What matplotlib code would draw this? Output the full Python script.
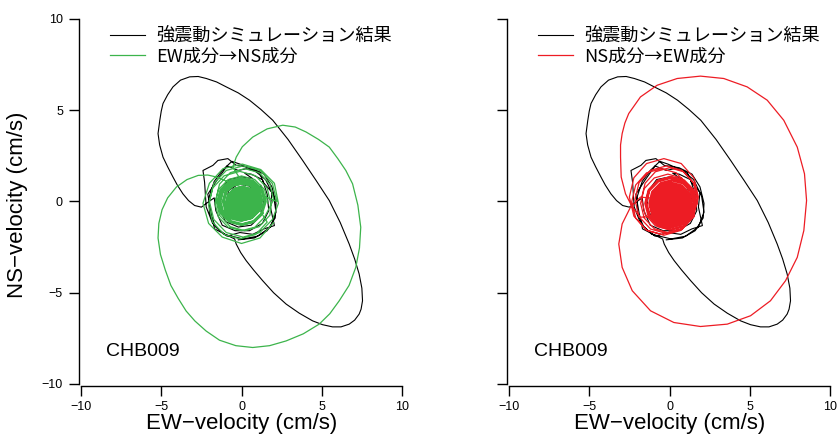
import numpy as np
import matplotlib.pyplot as plt

plt.rcParams['font.family'] = ['Liberation Sans', 'DejaVu Sans']

# black: 強震動シミュレーション結果 (same trace in both panels)
sim_big_x = [-2.09, -2.5, -2.92, -3.3, -3.65, -4.0, -4.27, -4.6, -4.89, -5.1, -5.2, -5.09, -5.0, -4.89, -4.6,
             -4.27, -3.8, -3.23, -2.7, -2.19, -1.55, -0.95, -0.2, 0.5, 1.2, 1.95, 2.9, 3.81, 4.65, 5.47,
             6.15, 6.71, 7.05, 7.33, 7.5, 7.54, 7.45, 7.33, 7.05, 6.71, 6.2, 5.67, 5.05, 4.43, 3.6,
             2.78, 2.0, 1.32, 0.75, 0.29, -0.05, -0.33]
sim_big_y = [-0.04, -0.31, -0.22, 0.05, 0.42, 0.9, 1.34, 1.9, 2.43, 3.1, 3.72, 4.45, 4.95, 5.37, 5.85,
             6.28, 6.65, 6.83, 6.85, 6.74, 6.55, 6.28, 5.95, 5.55, 5.05, 4.45, 3.4, 2.25, 1.15, 0.05,
             -1.15, -2.33, -3.15, -3.97, -4.75, -5.44, -5.9, -6.17, -6.5, -6.72, -6.87, -6.87, -6.75, -6.54, -6.12,
             -5.62, -5.0, -4.34, -3.75, -3.24, -2.8, -2.33]
sim_pre_x = [[0.5, 0.2, -0.3, -0.5, -0.2, 0.3, 0.4],
             [1.0, 0.8, 0.2, -0.6, -1.0, -0.8, -0.2, 0.5, 0.9],
             [1.2, 1.4, 1.2, 0.6, -0.2, -1.0, -1.4, -1.3, -0.8, 0.0, 0.7],
             [0.2, 0.6, 1.3, 1.6, 1.7, 1.3, 0.5, -0.4, -1.2, -1.6, -1.7]]
sim_pre_y = [[0.0, -0.5, -0.4, 0.1, 0.5, 0.4, 0.0],
             [0.4, -0.5, -1.0, -0.9, -0.2, 0.6, 0.95, 0.85, 0.2],
             [0.9, 0.1, -0.8, -1.3, -1.4, -1.1, -0.3, 0.6, 1.2, 1.35, 1.25],
             [1.55, 1.5, 1.2, 0.4, -0.5, -1.2, -1.6, -1.6, -1.3, -0.5, 0.2]]
sim_post_x = [[-0.43, -1.06, -1.68, -1.9, -2.1, -1.5, -0.9, -0.2, 0.3, 1.1, 1.4, 1.9, 1.8, 2.05, 1.4, 0.7, -0.1],
              [-0.9, -1.6, -2.0, -2.0, -1.7, -1.2, -0.6, -0.1, 0.8, 1.5, 2.0, 2.15, 1.8, 1.0, 0.1],
              [-1.1, -1.8, -2.2, -2.3, -2.4, -1.78, -1.47, -0.85, -0.33, 0.6, 1.4, 1.9, 2.15, 2.1, 1.6, 0.8, -0.2]]
sim_post_y = [[-2.05, -1.78, -1.5, -0.6, 0.4, 1.2, 1.95, 1.7, 1.8, 1.6, 1.0, 0.5, -0.3, -1.32, -1.5, -1.8, -1.7],
              [-1.9, -1.4, -0.6, 0.3, 1.1, 1.7, 2.2, 2.05, 1.7, 1.2, 0.3, -0.59, -1.4, -1.9, -2.05],
              [-1.8, -1.2, -0.3, 1.06, 1.7, 1.98, 2.25, 2.35, 1.98, 1.85, 1.5, 0.8, -0.1, -0.9, -1.6, -2.0, -2.1]]

# green: EW成分→NS成分
ew_big_x = [-0.54, -0.33, 0.05, 0.7, 1.6, 2.57, 3.35, 4.02, 4.8, 5.47, 6.0, 6.5, 6.92, 7.25, 7.43,
            7.35, 7.12, 6.7, 6.09, 5.5, 4.84, 3.85, 2.78, 1.75, 0.7, -0.35, -1.37, -2.2, -2.9, -3.45,
            -3.95, -4.4, -4.75, -5.05, -5.2, -5.15, -4.95, -4.6, -4.06, -3.4, -2.7, -2.1, -1.6]
ew_big_y = [1.88, 2.43, 3.0, 3.53, 3.98, 4.18, 4.08, 3.81, 3.4, 2.98, 2.35, 1.7, 0.97, -0.2, -1.41,
            -2.55, -3.61, -4.6, -5.44, -6.15, -6.72, -7.25, -7.64, -7.9, -8.0, -7.9, -7.6, -7.1, -6.55, -6.0,
            -5.3, -4.6, -3.75, -2.9, -2.0, -1.2, -0.45, 0.2, 0.79, 1.2, 1.43, 1.45, 1.35]
ew_core_x = [[0.1, 0.0, -0.1, 0.0],
             [0.2, 0.17, 0.1, 0, -0.1, -0.17, -0.2, -0.17, -0.1, 0, 0.1, 0.17],
             [0.3, 0.26, 0.15, 0, -0.15, -0.26, -0.3, -0.26, -0.15, 0, 0.15, 0.26],
             [0.4, 0.35, 0.2, 0, -0.2, -0.35, -0.4, -0.35, -0.2, 0, 0.2, 0.35],
             [0.5, 0.43, 0.25, 0, -0.25, -0.43, -0.5, -0.43, -0.25, 0, 0.25, 0.43],
             [0.6, 0.52, 0.3, 0, -0.3, -0.52, -0.6, -0.52, -0.3, 0, 0.3, 0.52],
             [0.7, 0.61, 0.35, 0, -0.35, -0.61, -0.7, -0.61, -0.35, 0, 0.35, 0.61],
             [0.8, 0.7, 0.4, 0, -0.4, -0.7, -0.8, -0.7, -0.4, 0, 0.4, 0.7],
             [0.9, 0.78, 0.45, 0, -0.45, -0.78, -0.9, -0.78, -0.45, 0, 0.45, 0.78],
             [1.05, 0.92, 0.55, 0.05, -0.45, -0.82, -0.95, -0.82, -0.45, 0.05, 0.55, 0.92],
             [1.1, 0.96, 0.55, 0, -0.55, -0.96, -1.1, -0.96, -0.55, 0, 0.55, 0.96],
             [1.25, 1.09, 0.65, 0.05, -0.55, -0.99, -1.15, -0.99, -0.55, 0.05, 0.65, 1.09],
             [1.25, 1.08, 0.6, -0.05, -0.7, -1.18, -1.35, -1.18, -0.7, -0.05, 0.6, 1.08],
             [1.45, 1.27, 0.75, 0.05, -0.65, -1.17, -1.35, -1.17, -0.65, 0.05, 0.75, 1.27],
             [1.5, 1.3, 0.75, 0, -0.75, -1.3, -1.5, -1.3, -0.75, 0, 0.75, 1.3]]
ew_core_y = [[0.0, 0.09, 0.0, -0.09],
             [0, 0.09, 0.15, 0.17, 0.15, 0.09, 0, -0.09, -0.15, -0.17, -0.15, -0.09],
             [0, 0.13, 0.23, 0.26, 0.23, 0.13, 0, -0.13, -0.23, -0.26, -0.23, -0.13],
             [0, 0.17, 0.3, 0.34, 0.3, 0.17, 0, -0.17, -0.3, -0.34, -0.3, -0.17],
             [0, 0.22, 0.37, 0.43, 0.37, 0.22, 0, -0.22, -0.37, -0.43, -0.37, -0.22],
             [0, 0.26, 0.44, 0.51, 0.44, 0.26, 0, -0.26, -0.44, -0.51, -0.44, -0.26],
             [0, 0.3, 0.52, 0.6, 0.52, 0.3, 0, -0.3, -0.52, -0.6, -0.52, -0.3],
             [0, 0.34, 0.59, 0.68, 0.59, 0.34, 0, -0.34, -0.59, -0.68, -0.59, -0.34],
             [0, 0.39, 0.67, 0.77, 0.67, 0.39, 0, -0.39, -0.67, -0.77, -0.67, -0.39],
             [-0.05, 0.38, 0.69, 0.8, 0.69, 0.38, -0.05, -0.48, -0.79, -0.9, -0.79, -0.48],
             [0.05, 0.52, 0.87, 0.99, 0.87, 0.52, 0.05, -0.42, -0.77, -0.89, -0.77, -0.42],
             [0, 0.51, 0.89, 1.02, 0.89, 0.51, 0, -0.51, -0.89, -1.02, -0.89, -0.51],
             [0.05, 0.6, 1.01, 1.15, 1.01, 0.6, 0.05, -0.5, -0.91, -1.05, -0.91, -0.5],
             [-0.05, 0.55, 0.99, 1.15, 0.99, 0.55, -0.05, -0.65, -1.09, -1.25, -1.09, -0.65],
             [0, 0.64, 1.11, 1.28, 1.11, 0.64, 0, -0.64, -1.11, -1.28, -1.11, -0.64]]
ew_pre_x = [[1.65, 1.44, 0.83, 0, -0.83, -1.44, -1.65, -1.44, -0.83, 0, 0.83, 1.44],
            [2.0, 1.77, 1.1, 0.2, -0.7, -1.37, -1.6, -1.37, -0.7, 0.2, 1.1, 1.77],
            [1.85, 1.6, 0.88, -0.1, -1.08, -1.8, -2.05, -1.8, -1.08, -0.1, 0.88, 1.6]]
ew_pre_y = [[-0.1, 0.65, 1.2, 1.4, 1.2, 0.65, -0.1, -0.85, -1.41, -1.6, -1.41, -0.85],
            [0.1, 0.95, 1.58, 1.8, 1.58, 0.95, 0.1, -0.75, -1.38, -1.6, -1.38, -0.75],
            [-0.2, 0.73, 1.41, 1.65, 1.41, 0.73, -0.2, -1.13, -1.81, -2.05, -1.81, -1.13]]
ew_post_x = [[2.2, 1.93, 1.15, 0.1, -0.95, -1.73, -2.0, -1.73, -0.95, 0.1, 1.15, 1.93],
             [2.3, 2.05, 1.2, 0.05, -1.15, -2.0, -2.4, -2.05, -1.2, 0.0, 1.15, 2.0]]
ew_post_y = [[0, 0.98, 1.7, 1.95, 1.7, 0.98, 0, -0.98, -1.7, -1.95, -1.7, -0.98],
             [-0.1, 1.0, 1.75, 2.05, 1.8, 1.0, -0.1, -1.2, -1.95, -2.3, -2.0, -1.15]]

# red: NS成分→EW成分
ns_big_x = [-1.81, -2.32, -2.74, -3.01, -3.05, -3.05, -2.95, -2.78, -2.54, -1.81, -0.77, 0.48, 1.93, 3.38,
            4.84, 6.09, 7.12, 7.96, 8.41, 8.54, 8.37, 7.96, 7.23, 6.29, 5.05, 3.6, 1.93, 0.27, -1.18,
            -2.32, -2.95, -3.16, -2.95, -2.43, -1.81]
ns_big_y = [-0.86, -0.31, 0.42, 1.34, 2.43, 3.1, 3.72, 4.3, 4.82, 5.73, 6.37, 6.74, 6.87, 6.74,
            6.28, 5.55, 4.45, 2.98, 1.52, 0.05, -1.59, -3.06, -4.34, -5.44, -6.26, -6.72, -6.85, -6.63, -5.99,
            -4.89, -3.61, -2.33, -1.23, -0.31, 0.24]
ns_core_x = [[0.2, 0.1, 0.0, 0.1],
             [0.3, 0.27, 0.2, 0.1, 0, -0.07, -0.1, -0.07, 0, 0.1, 0.2, 0.27],
             [0.4, 0.36, 0.25, 0.1, -0.05, -0.16, -0.2, -0.16, -0.05, 0.1, 0.25, 0.36],
             [0.5, 0.45, 0.3, 0.1, -0.1, -0.25, -0.3, -0.25, -0.1, 0.1, 0.3, 0.45],
             [0.6, 0.53, 0.35, 0.1, -0.15, -0.33, -0.4, -0.33, -0.15, 0.1, 0.35, 0.53],
             [0.7, 0.62, 0.4, 0.1, -0.2, -0.42, -0.5, -0.42, -0.2, 0.1, 0.4, 0.62],
             [0.8, 0.71, 0.45, 0.1, -0.25, -0.51, -0.6, -0.51, -0.25, 0.1, 0.45, 0.71],
             [0.9, 0.8, 0.5, 0.1, -0.3, -0.6, -0.7, -0.6, -0.3, 0.1, 0.5, 0.8],
             [1.0, 0.88, 0.55, 0.1, -0.35, -0.68, -0.8, -0.68, -0.35, 0.1, 0.55, 0.88],
             [1.1, 0.97, 0.6, 0.1, -0.4, -0.77, -0.9, -0.77, -0.4, 0.1, 0.6, 0.97],
             [1.2, 1.06, 0.65, 0.1, -0.45, -0.86, -1.0, -0.86, -0.45, 0.1, 0.65, 1.06],
             [1.3, 1.14, 0.7, 0.1, -0.5, -0.94, -1.1, -0.94, -0.5, 0.1, 0.7, 1.14],
             [1.4, 1.23, 0.75, 0.1, -0.55, -1.03, -1.2, -1.03, -0.55, 0.1, 0.75, 1.23],
             [1.55, 1.37, 0.85, 0.15, -0.55, -1.07, -1.25, -1.07, -0.55, 0.15, 0.85, 1.37],
             [1.55, 1.36, 0.8, 0.05, -0.7, -1.26, -1.45, -1.26, -0.7, 0.05, 0.8, 1.36],
             [1.7, 1.49, 0.9, 0.1, -0.7, -1.29, -1.5, -1.29, -0.7, 0.1, 0.9, 1.49]]
ns_core_y = [[-0.1, -0.01, -0.1, -0.19],
             [-0.1, -0.01, 0.06, 0.08, 0.06, -0.01, -0.1, -0.19, -0.26, -0.28, -0.26, -0.19],
             [-0.1, 0.04, 0.13, 0.17, 0.13, 0.04, -0.1, -0.24, -0.33, -0.37, -0.33, -0.24],
             [-0.1, 0.08, 0.21, 0.26, 0.21, 0.08, -0.1, -0.28, -0.41, -0.46, -0.41, -0.28],
             [-0.1, 0.13, 0.29, 0.35, 0.29, 0.13, -0.1, -0.33, -0.49, -0.55, -0.49, -0.33],
             [-0.1, 0.17, 0.37, 0.44, 0.37, 0.17, -0.1, -0.37, -0.57, -0.64, -0.57, -0.37],
             [-0.1, 0.22, 0.45, 0.53, 0.45, 0.22, -0.1, -0.42, -0.65, -0.73, -0.65, -0.42],
             [-0.1, 0.26, 0.53, 0.62, 0.53, 0.26, -0.1, -0.46, -0.73, -0.82, -0.73, -0.46],
             [-0.1, 0.31, 0.6, 0.71, 0.6, 0.31, -0.1, -0.51, -0.8, -0.91, -0.8, -0.51],
             [-0.1, 0.35, 0.68, 0.8, 0.68, 0.35, -0.1, -0.55, -0.88, -1.0, -0.88, -0.55],
             [-0.1, 0.4, 0.76, 0.89, 0.76, 0.4, -0.1, -0.6, -0.96, -1.09, -0.96, -0.6],
             [-0.1, 0.44, 0.84, 0.98, 0.84, 0.44, -0.1, -0.64, -1.04, -1.18, -1.04, -0.64],
             [-0.15, 0.44, 0.87, 1.02, 0.87, 0.44, -0.15, -0.74, -1.17, -1.32, -1.17, -0.74],
             [-0.1, 0.53, 1.0, 1.16, 1.0, 0.53, -0.1, -0.73, -1.2, -1.36, -1.2, -0.73],
             [-0.05, 0.63, 1.12, 1.3, 1.12, 0.63, -0.05, -0.73, -1.22, -1.4, -1.22, -0.73],
             [-0.1, 0.62, 1.15, 1.34, 1.15, 0.62, -0.1, -0.82, -1.35, -1.54, -1.35, -0.82]]
ns_pre_x = [[1.6, 1.38, 0.75, -0.1, -0.95, -1.58, -1.8, -1.58, -0.95, -0.1, 0.75, 1.38],
            [1.75, 1.52, 0.88, 0, -0.88, -1.52, -1.75, -1.52, -0.88, 0, 0.88, 1.52]]
ns_pre_y = [[-0.1, 0.7, 1.29, 1.5, 1.29, 0.7, -0.1, -0.9, -1.49, -1.7, -1.49, -0.9],
            [0.15, 1.0, 1.63, 1.85, 1.63, 1.0, 0.15, -0.7, -1.33, -1.55, -1.33, -0.7]]
ns_post_x = [[1.35, 1.11, 0.43, -0.5, -1.43, -2.11, -2.35, -2.11, -1.43, -0.5, 0.43, 1.11],
             [1.75, 1.5, 0.78, -0.2, -1.18, -1.9, -2.15, -1.9, -1.18, -0.2, 0.78, 1.5],
             [1.8, 1.52, 0.73, -0.35, -1.43, -2.22, -2.5, -2.22, -1.43, -0.35, 0.73, 1.52]]
ns_post_y = [[0, 0.9, 1.57, 1.8, 1.57, 0.9, 0, -0.9, -1.57, -1.8, -1.57, -0.9],
             [0.1, 1.03, 1.71, 1.95, 1.71, 1.03, 0.1, -0.83, -1.51, -1.75, -1.51, -0.83],
             [0.25, 1.3, 2.08, 2.35, 2.08, 1.3, 0.25, -0.8, -1.58, -1.85, -1.58, -0.8]]

sim_label = '強震動シミュレーション結果'
panels = [('EW成分→NS成分', '#3cb44b', ew_core_x, ew_core_y, ew_pre_x, ew_pre_y, ew_big_x, ew_big_y, ew_post_x, ew_post_y),
          ('NS成分→EW成分', '#ed1c24', ns_core_x, ns_core_y, ns_pre_x, ns_pre_y, ns_big_x, ns_big_y, ns_post_x, ns_post_y)]
station = 'CHB009'


def trace(pre, big, post):
    return np.concatenate([np.concatenate(pre), big, np.concatenate(post)])


sim_x = trace(sim_pre_x, sim_big_x, sim_post_x)
sim_y = trace(sim_pre_y, sim_big_y, sim_post_y)

fig = plt.figure(figsize=(8.38, 4.38), dpi=100)
lefts = [81 / 838, 509 / 838]

for i, (lab, col, cx, cy, px, py, bx, by, qx, qy) in enumerate(panels):
    ax = fig.add_axes([lefts[i], 1 - 384 / 438, 321 / 838, 365 / 438])
    l1, = ax.plot(sim_x, sim_y, color='black', lw=0.8)
    # dense inner part of the orbit
    ax.plot(np.concatenate(cx), np.concatenate(cy), color=col, lw=1.8)
    l2, = ax.plot(trace(px, bx, qx), trace(py, by, qy), color=col, lw=0.9)
    ax.set_xlim(-10, 10)
    ax.set_ylim(-10, 10)
    ax.set_xticks([-10, -5, 0, 5, 10])
    ax.set_yticks([-10, -5, 0, 5, 10])
    for s in ['top', 'right']:
        ax.spines[s].set_visible(False)
    for s in ['left', 'bottom']:
        ax.spines[s].set_position(('outward', 1.5))
        ax.spines[s].set_linewidth(1.0)
    ax.tick_params(direction='out', length=7.5, width=1.0, labelsize=9)
    ax.tick_params(axis='x', pad=3.5)
    ax.tick_params(axis='y', pad=4)
    ax.set_xlabel('EW−velocity (cm/s)', fontsize=16)
    ax.xaxis.set_label_coords(0.5, -0.080)
    if i == 0:
        ax.set_ylabel('NS−velocity (cm/s)', fontsize=16)
        ax.yaxis.set_label_coords(-0.165, 0.49)
    else:
        ax.tick_params(axis='y', labelleft=False)
    ax.text(-8.45, -8.2, station, fontsize=14, va='center', ha='left')
    ax.legend([l1, l2], [sim_label, lab], loc='upper left', bbox_to_anchor=(0.09, 0.978),
              frameon=False, borderpad=0, borderaxespad=0, handlelength=1.95,
              handletextpad=0.6, labelspacing=0.15,
              prop={'family': ['Noto Sans CJK JP', 'DejaVu Sans'], 'size': 13.1})

fig.savefig('out.png', dpi=100)
